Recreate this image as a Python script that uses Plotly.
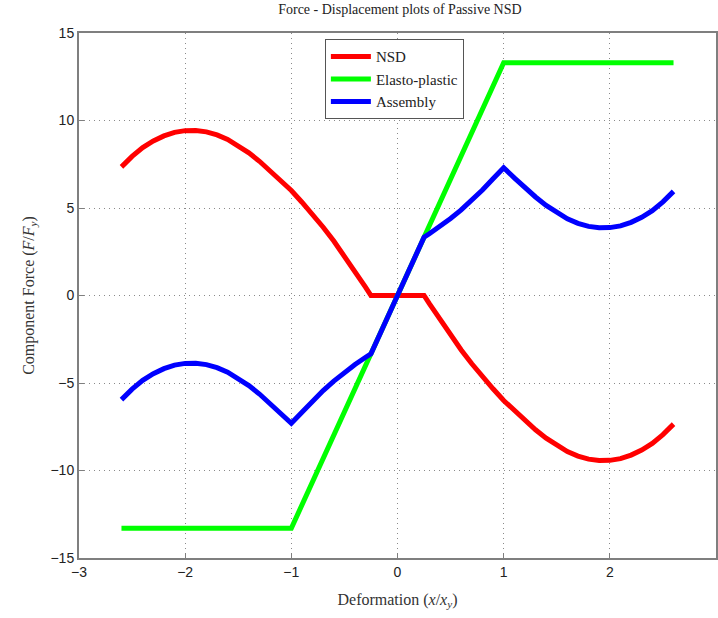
import plotly.graph_objects as go

# Deformation samples (x / x_y)
x_vals = [-2.6, -2.5, -2.4, -2.3, -2.2, -2.1, -2.0, -1.9, -1.8, -1.7, -1.6, -1.5, -1.4,
          -1.3, -1.2, -1.1, -1.0, -0.9, -0.8, -0.7, -0.6, -0.5, -0.4, -0.3, -0.25, 0.0,
          0.25, 0.3, 0.4, 0.5, 0.6, 0.7, 0.8, 0.9, 1.0, 1.1, 1.2, 1.3, 1.4, 1.5, 1.6,
          1.7, 1.8, 1.9, 2.0, 2.1, 2.2, 2.3, 2.4, 2.5, 2.6]

nsd_vals = [7.35, 7.95, 8.45, 8.83, 9.12, 9.32, 9.42, 9.43, 9.35, 9.18, 8.92, 8.57, 8.15,
            7.67, 7.14, 6.58, 6.0, 5.33, 4.64, 3.9, 3.11, 2.27, 1.39, 0.47, 0.0, 0.0,
            0.0, -0.47, -1.39, -2.27, -3.11, -3.9, -4.64, -5.33, -6.0, -6.58, -7.14, -7.67, -8.15, -8.57, -8.92,
            -9.18, -9.35, -9.43, -9.42, -9.32, -9.12, -8.83, -8.45, -7.95, -7.35]

assembly_vals = [-5.95, -5.35, -4.85, -4.47, -4.18, -3.98, -3.88, -3.87, -3.95, -4.12, -4.38, -4.73, -5.15,
                 -5.63, -6.16, -6.72, -7.3, -6.67, -6.03, -5.43, -4.89, -4.4, -3.94, -3.53, -3.33, 0.0,
                 3.33, 3.53, 3.94, 4.4, 4.89, 5.43, 6.03, 6.67, 7.3, 6.72, 6.16, 5.63, 5.15, 4.73, 4.38,
                 4.12, 3.95, 3.87, 3.88, 3.98, 4.18, 4.47, 4.85, 5.35, 5.95]

ep_x = [-2.6, -1.0, 1.0, 2.6]
ep_vals = [-13.3, -13.3, 13.3, 13.3]

x_ticks = [-3, -2, -1, 0, 1, 2, 3]
x_tick_text = ["\u22123", "\u22122", "\u22121", "0", "1", "2", "3"]
y_ticks = [-15, -10, -5, 0, 5, 10, 15]
y_tick_text = ["\u221215", "\u221210", "\u22125", "0", "5", "10", "15"]

serif = "Liberation Serif, DejaVu Serif, serif"
sans = "Liberation Sans, Arial, sans-serif"

fig = go.Figure()
fig.add_trace(go.Scatter(x=x_vals, y=nsd_vals, mode="lines", name="NSD",
                         line=dict(color="#ff0000", width=5)))
fig.add_trace(go.Scatter(x=ep_x, y=ep_vals, mode="lines", name="Elasto-plastic",
                         line=dict(color="#00ff00", width=5)))
fig.add_trace(go.Scatter(x=x_vals, y=assembly_vals, mode="lines", name="Assembly",
                         line=dict(color="#0000ff", width=5)))

axis_common = dict(showline=True, linecolor="#7f7f7f", linewidth=2, mirror=True,
                   ticks="inside", ticklen=5, tickcolor="#7f7f7f",
                   showgrid=True, gridcolor="#8a8a8a", griddash="1px,4px", gridwidth=1,
                   zeroline=False, tickfont=dict(family=sans, size=14, color="#222"))

fig.update_xaxes(range=[-3, 3], tickvals=x_ticks, ticktext=x_tick_text,
                 title=dict(text="Deformation (<i>x</i>/<i>x<sub>y</sub></i>)",
                            font=dict(family=serif, size=16, color="#333"), standoff=15),
                 **axis_common)
fig.update_yaxes(range=[-15, 15], tickvals=y_ticks, ticktext=y_tick_text,
                 title=dict(text="Component Force (<i>F</i>/<i>F<sub>y</sub></i>)",
                            font=dict(family=serif, size=16, color="#333"), standoff=12),
                 **axis_common)

fig.update_layout(
    width=718, height=618,
    margin=dict(l=79, r=0, t=33, b=60),
    paper_bgcolor="white", plot_bgcolor="white",
    title=dict(text="Force - Displacement plots of Passive NSD", x=0.557, xanchor="center",
               y=0.993, yanchor="top", font=dict(family=serif, size=14, color="#222")),
    legend=dict(x=0.386, y=0.988, xanchor="left", yanchor="top",
                bgcolor="white", bordercolor="#555", borderwidth=1,
                font=dict(family=serif, size=15, color="#222"),
                tracegroupgap=0, itemwidth=40),
    showlegend=True,
)

fig.write_html("out.html", config={"displayModeBar": False},
               post_script="document.body.style.margin='0';")
